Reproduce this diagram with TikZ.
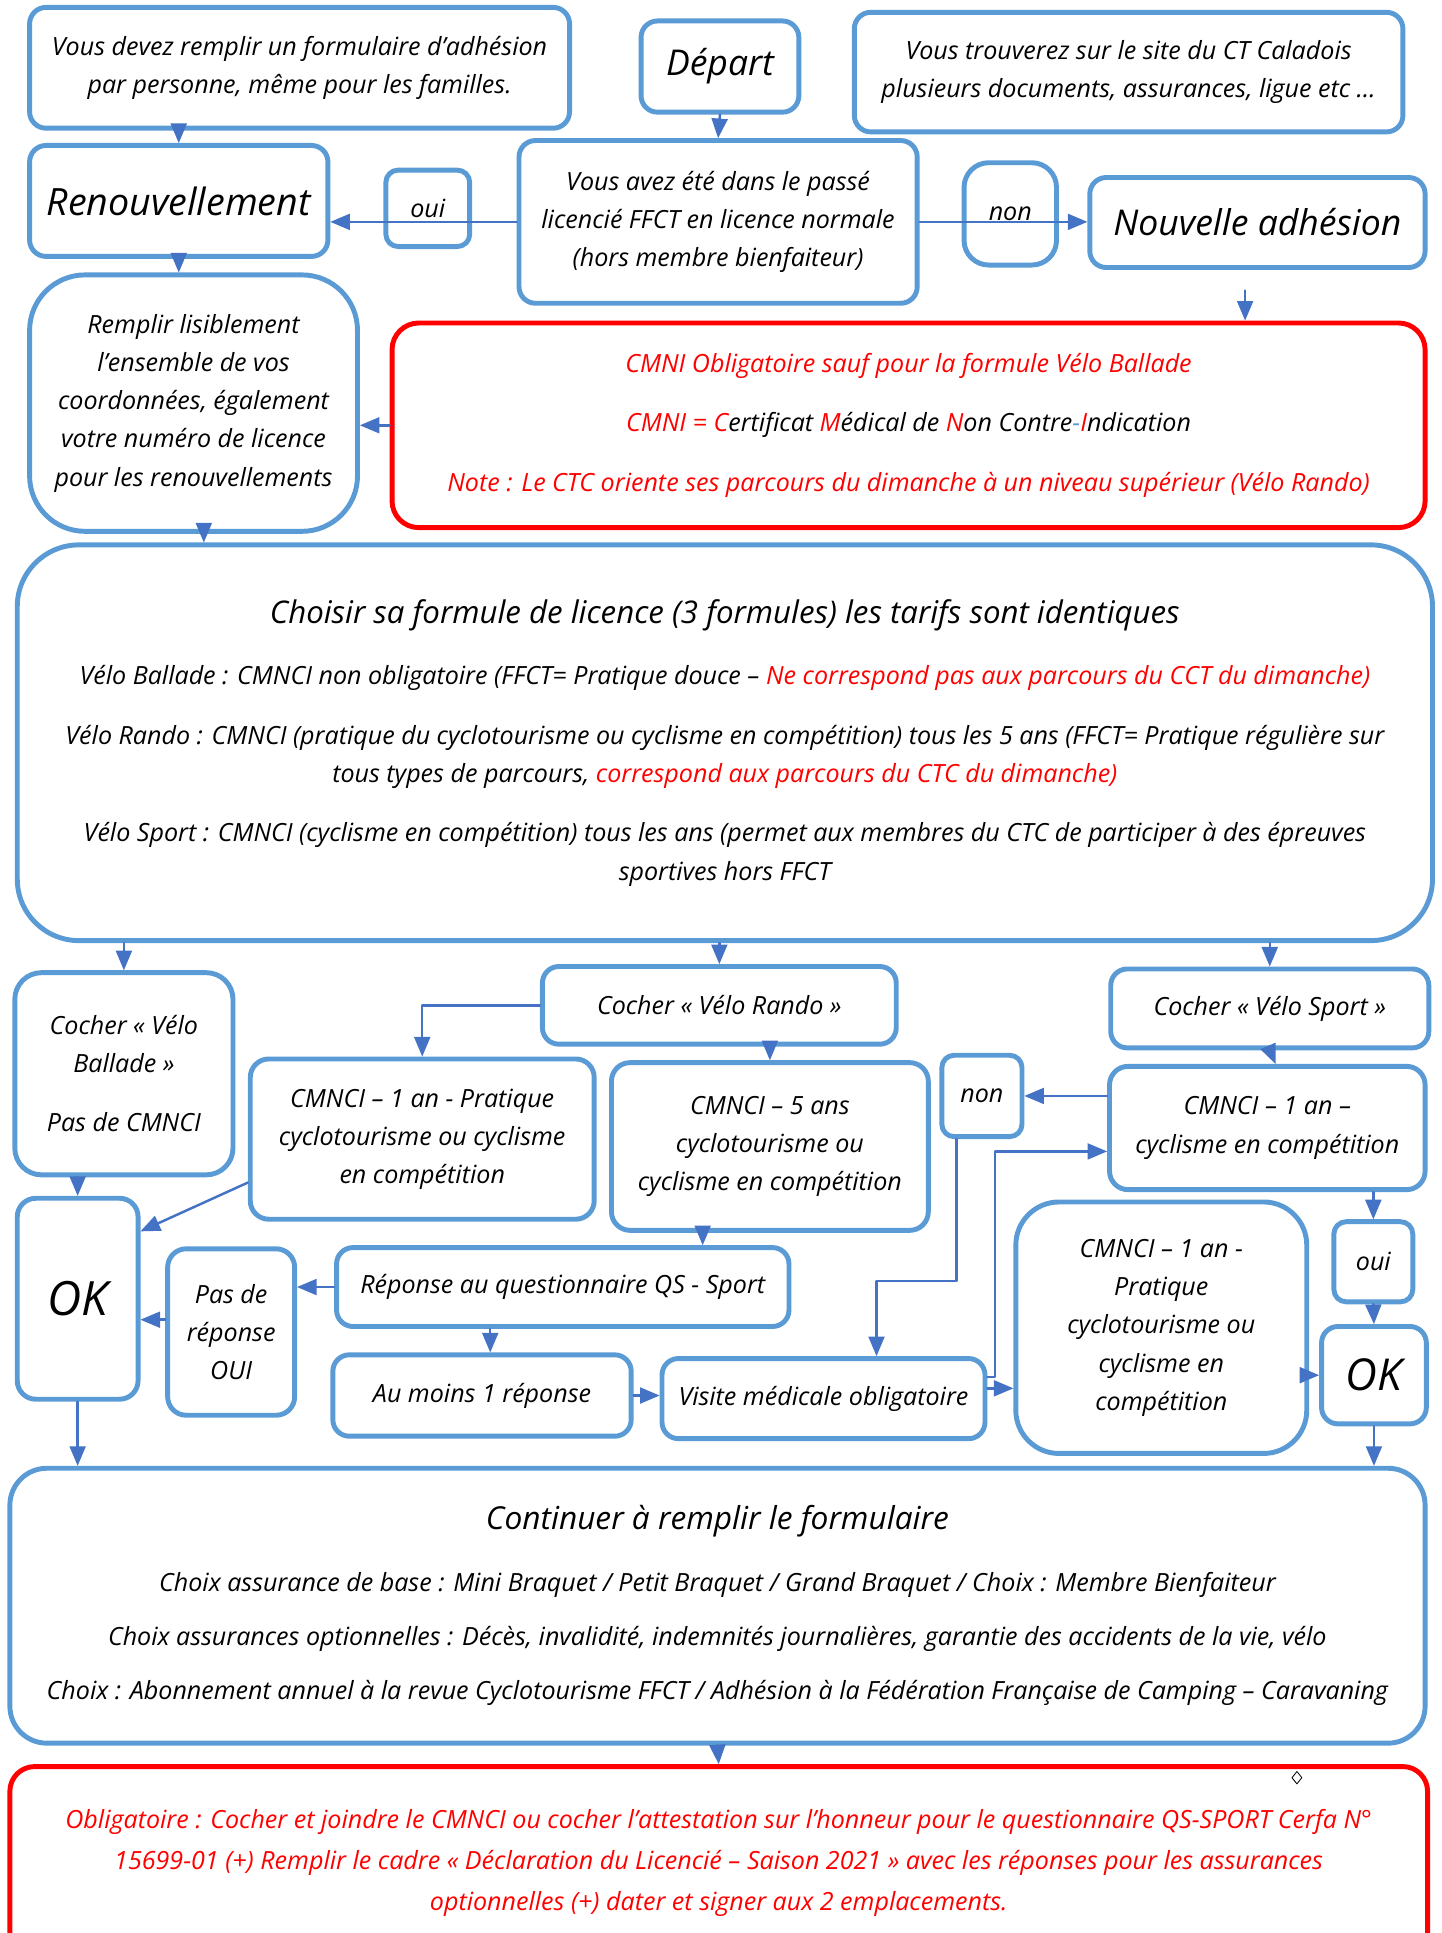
\documentclass[tikz,border=0pt]{standalone}
\usepackage{fontspec}
\setmainfont{Open Sans}
\usepackage{xcolor}
\usepackage{tikz}
\usetikzlibrary{arrows}
\definecolor{ffqqqq}{rgb}{1.,0.,0.}
\definecolor{bleucadre}{rgb}{0.357,0.608,0.835}
\definecolor{bleufleche}{rgb}{0.267,0.447,0.769}
\tikzstyle{every node}=[font=\itshape\fontsize{12.2}{18.6}\selectfont]
\tikzstyle{cadre}=[draw=bleucadre,line width=2.4pt,rounded corners=8pt,align=center,inner sep=1pt]
\tikzstyle{cadrerouge}=[cadre,draw=ffqqqq]
\tikzstyle{titre}=[font=\itshape\fontsize{17.3}{20}\selectfont]
\tikzstyle{grandok}=[font=\itshape\fontsize{23}{26}\selectfont]

\begin{document}
\begin{tikzpicture}[line cap=round,line join=round,>=triangle 45,x=0.6pt,y=-0.6pt]
            \useasboundingbox (0,0) rectangle (1169,1568);
            \clip (0,0) rectangle (1169,1568);
            % haut
            \node [cadre,minimum width=262.8pt,minimum height=58.8pt] (formulaire) at (243,55) {Vous devez remplir un formulaire d’adhésion\\par personne, même pour les familles.};
            \node [cadre,titre,minimum width=76.8pt,minimum height=44.4pt] (depart) at (584,54) {Départ};
            \node [cadre,minimum width=267pt,minimum height=58.2pt] (site) at (915.5,58.5) {Vous trouverez sur le site du CT Caladois\\plusieurs documents, assurances, ligue etc …};
            \node [cadre,titre,font=\itshape\fontsize{18.3}{21}\selectfont,minimum width=145.2pt,minimum height=54pt] (renouv) at (145,163) {Renouvellement};
            \node [cadre,rounded corners=6pt,minimum width=40.8pt,minimum height=37.2pt] (oui1) at (347,169) {oui};
            \node [cadre,minimum width=193.8pt,minimum height=79.2pt] (passe) at (582.5,180) {Vous avez été dans le passé\\licencié FFCT en licence normale\\(hors membre bienfaiteur)};
            \node [cadre,rounded corners=12pt,minimum width=45pt,minimum height=49.8pt] (non1) at (819.5,173.5) {non};
            \node [cadre,titre,minimum width=163.2pt,minimum height=43.8pt] (nouvelle) at (1020,180.5) {Nouvelle adhésion};
            \node [cadre,rounded corners=27pt,minimum width=159.6pt,minimum height=124.8pt] (remplir) at (157,327) {Remplir lisiblement\\l’ensemble de vos\\coordonnées, également\\votre numéro de licence\\pour les renouvellements};
            \node [cadrerouge,rounded corners=13pt,minimum width=502.8pt,minimum height=99.6pt] (cmni) at (737,345) {\textcolor{ffqqqq}{CMNI Obligatoire sauf pour la formule Vélo Ballade}\\[10.2pt]\textcolor{ffqqqq}{CMNI = C}ertificat \textcolor{ffqqqq}{M}édical de \textcolor{ffqqqq}{N}on Contre\textcolor{bleucadre}{-}\textcolor{ffqqqq}{I}ndication\\[10.2pt]\textcolor{ffqqqq}{Note : Le CTC oriente ses parcours du dimanche à un niveau supérieur (Vélo Rando)}};
            % formules
            \node [cadre,rounded corners=30pt,minimum width=688.8pt,minimum height=192.6pt] (choisir) at (588,602.5) {{\fontsize{15.2}{19}\selectfont Choisir sa formule de licence (3 formules) les tarifs sont identiques}\\[11pt]Vélo Ballade : CMNCI non obligatoire (FFCT= Pratique douce – \textcolor{ffqqqq}{Ne correspond pas aux parcours du CCT du dimanche)}\\[10.8pt]Vélo Rando : CMNCI (pratique du cyclotourisme ou cyclisme en compétition) tous les 5 ans (FFCT= Pratique régulière sur\\tous types de parcours, \textcolor{ffqqqq}{correspond aux parcours du CTC du dimanche)}\\[10.2pt]Vélo Sport : CMNCI (cyclisme en compétition) tous les ans (permet aux membres du CTC de participer à des épreuves\\sportives hors FFCT};
            \node [cadre,rounded corners=13pt,minimum width=106.2pt,minimum height=98.4pt] (ballade) at (100.5,871) {Cocher «~Vélo\\Ballade~»\\[10.2pt]Pas de CMNCI};
            \node [cadre,minimum width=172.2pt,minimum height=37.8pt] (rando) at (583.5,815.5) {Cocher «~Vélo Rando~»};
            \node [cadre,minimum width=154.8pt,minimum height=38.4pt] (sport) at (1030,818) {Cocher «~Vélo Sport~»};
            \node [cadre,rounded corners=9pt,minimum width=167.4pt,minimum height=78pt] (cmunan) at (342.5,924) {CMNCI – 1 an - Pratique\\cyclotourisme ou cyclisme\\en compétition};
            \node [cadre,rounded corners=9pt,minimum width=154.2pt,minimum height=81.6pt] (cmcinq) at (624.5,930) {CMNCI – 5 ans\\cyclotourisme ou\\cyclisme en compétition};
            \node [cadre,rounded corners=6pt,minimum width=39pt,minimum height=39.6pt] (non2) at (796.5,889) {non};
            \node [cadre,rounded corners=9pt,minimum width=153.6pt,minimum height=60pt] (cmcomp) at (1028,915) {CMNCI – 1 an –\\cyclisme en compétition};
            % bas
            \node [cadre,grandok,rounded corners=9pt,minimum width=58.8pt,minimum height=97.8pt] (ok1) at (63,1053.5) {OK};
            \node [cadre,rounded corners=9pt,minimum width=61.8pt,minimum height=81pt] (pasde) at (187.5,1080.5) {Pas de\\réponse\\OUI};
            \node [cadre,minimum width=220.2pt,minimum height=38.4pt] (reponse) at (456.5,1044) {Réponse au questionnaire QS - Sport};
            \node [cadre,minimum width=145.2pt,minimum height=39.6pt] (aumoins) at (391,1132) {Au moins 1 réponse};
            \node [cadre,minimum width=157.2pt,minimum height=39pt] (visite) at (668,1134.5) {Visite médicale obligatoire};
            \node [cadre,rounded corners=21pt,minimum width=141.6pt,minimum height=122.4pt] (cmprat) at (942,1077) {CMNCI – 1 an -\\Pratique\\cyclotourisme ou\\cyclisme en\\compétition};
            \node [cadre,rounded corners=6pt,minimum width=38.4pt,minimum height=39pt] (oui2) at (1114,1023.5) {oui};
            \node [cadre,grandok,font=\itshape\fontsize{21.4}{24}\selectfont,minimum width=51pt,minimum height=47.4pt] (ok2) at (1114.5,1115.5) {OK};
            \node [cadre,rounded corners=18pt,minimum width=688.8pt,minimum height=133.8pt] (continuer) at (582,1302.5) {{\fontsize{15.4}{19}\selectfont Continuer à remplir le formulaire}\\[11.4pt]Choix assurance de base : Mini Braquet / Petit Braquet / Grand Braquet / Choix : Membre Bienfaiteur\\[7.8pt]Choix assurances optionnelles : Décès, invalidité, indemnités journalières, garantie des accidents de la vie, vélo\\[7.8pt]Choix : Abonnement annuel à la revue Cyclotourisme FFCT / Adhésion à la Fédération Française de Camping – Caravaning};
            \node [cadrerouge,rounded corners=12pt,font=\itshape\fontsize{12.2}{19.8}\selectfont,text=ffqqqq,minimum width=690pt,minimum height=93.6pt] (oblig) at (583,1511) {Obligatoire : Cocher et joindre le CMNCI ou cocher l’attestation sur l’honneur pour le questionnaire QS-SPORT Cerfa N°\\15699-01 (+) Remplir le cadre «~Déclaration du Licencié – Saison 2021~» avec les réponses pour les assurances\\optionnelles (+) dater et signer aux 2 emplacements.};
            \draw [line width=0.4pt] (1052,1437) -- (1056,1442) -- (1052,1447) -- (1048,1442) -- cycle;
            % fleches
            \draw [->,line width=1.2pt,color=bleufleche] (renouv.north |- formulaire.south) -- (renouv.north);
            \draw [->,line width=1.2pt,color=bleufleche] (depart.south) -- (passe.north);
            \draw [->,line width=1.2pt,color=bleufleche] (passe.west) -- (passe.west -| renouv.east);
            \draw [->,line width=1.2pt,color=bleufleche] (passe.east) -- (passe.east -| nouvelle.west);
            \draw [->,line width=1.2pt,color=bleufleche] (renouv.south) -- (renouv.south |- remplir.north);
            \draw [->,line width=1.2pt,color=bleufleche] ([xshift=-6pt,yshift=-10pt]nouvelle.south) -- ([xshift=-6pt]nouvelle.south |- cmni.north);
            \draw [->,line width=1.2pt,color=bleufleche] (cmni.west) -- (cmni.west -| remplir.east);
            \draw [->,line width=1.2pt,color=bleufleche] ([xshift=5pt]remplir.south) -- ([xshift=5pt]remplir.south |- choisir.north);
            \draw [->,line width=1.2pt,color=bleufleche] (ballade.north |- choisir.south) -- (ballade.north);
            \draw [->,line width=1.2pt,color=bleufleche] (rando.north |- choisir.south) -- (rando.north);
            \draw [->,line width=1.2pt,color=bleufleche] (sport.north |- choisir.south) -- (sport.north);
            \draw [->,line width=1.2pt,color=bleufleche] (rando.west) -| (cmunan.north);
            \draw [->,line width=1.2pt,color=bleufleche] (cmcinq.north |- rando.south) -- (cmcinq.north);
            \draw [->,line width=1.2pt,color=bleufleche] (ok1.north |- ballade.south) -- (ok1.north);
            \draw [->,line width=1.2pt,color=bleufleche] (cmunan.194) -- (ok1.47);
            \draw [->,line width=1.2pt,color=bleufleche] ([xshift=-32.7pt]cmcinq.south) -- ([xshift=-32.7pt]cmcinq.south |- reponse.north);
            \draw [->,line width=1.2pt,color=bleufleche] (sport.south) -- ([xshift=4pt]cmcomp.north);
            \draw [->,line width=1.2pt,color=bleufleche] (cmcomp.west |- non2.east) -- (non2.east);
            \draw [->,line width=1.2pt,color=bleufleche] ([xshift=-12.3pt]non2.south) -- ++(0,115) -| ([xshift=25.8pt]visite.north);
            \draw [->,line width=1.2pt,color=bleufleche] ([yshift=10.5pt]visite.east) -- ++(6,0) |- ([yshift=-11.4pt]cmcomp.west);
            \draw [->,line width=1.2pt,color=bleufleche] (oui2.north |- cmcomp.south) -- (oui2.north);
            \draw [->,line width=1.2pt,color=bleufleche] (oui2.south) -- (ok2.north);
            \draw [->,line width=1.2pt,color=bleufleche] (reponse.west) -- (reponse.west -| pasde.east);
            \draw [->,line width=1.2pt,color=bleufleche] ([yshift=6pt]pasde.west) -- ([yshift=6pt]pasde.west -| ok1.east);
            \draw [->,line width=1.2pt,color=bleufleche] ([xshift=4pt]aumoins.north |- reponse.south) -- ([xshift=4pt]aumoins.north);
            \draw [->,line width=1.2pt,color=bleufleche] (aumoins.east) -- (aumoins.east -| visite.west);
            \draw [->,line width=1.2pt,color=bleufleche] ([yshift=5pt]visite.east) -- ([yshift=5pt]visite.east -| cmprat.west);
            \draw [->,line width=1.2pt,color=bleufleche] (ok2.west -| cmprat.east) -- (ok2.west);
            \draw [->,line width=1.2pt,color=bleufleche] (ok1.south) -- (ok1.south |- continuer.north);
            \draw [->,line width=1.2pt,color=bleufleche] (ok2.south) -- (ok2.south |- continuer.north);
            \draw [->,line width=1.2pt,color=bleufleche] (continuer.south) -- (oblig.north);
\end{tikzpicture}
\end{document}
